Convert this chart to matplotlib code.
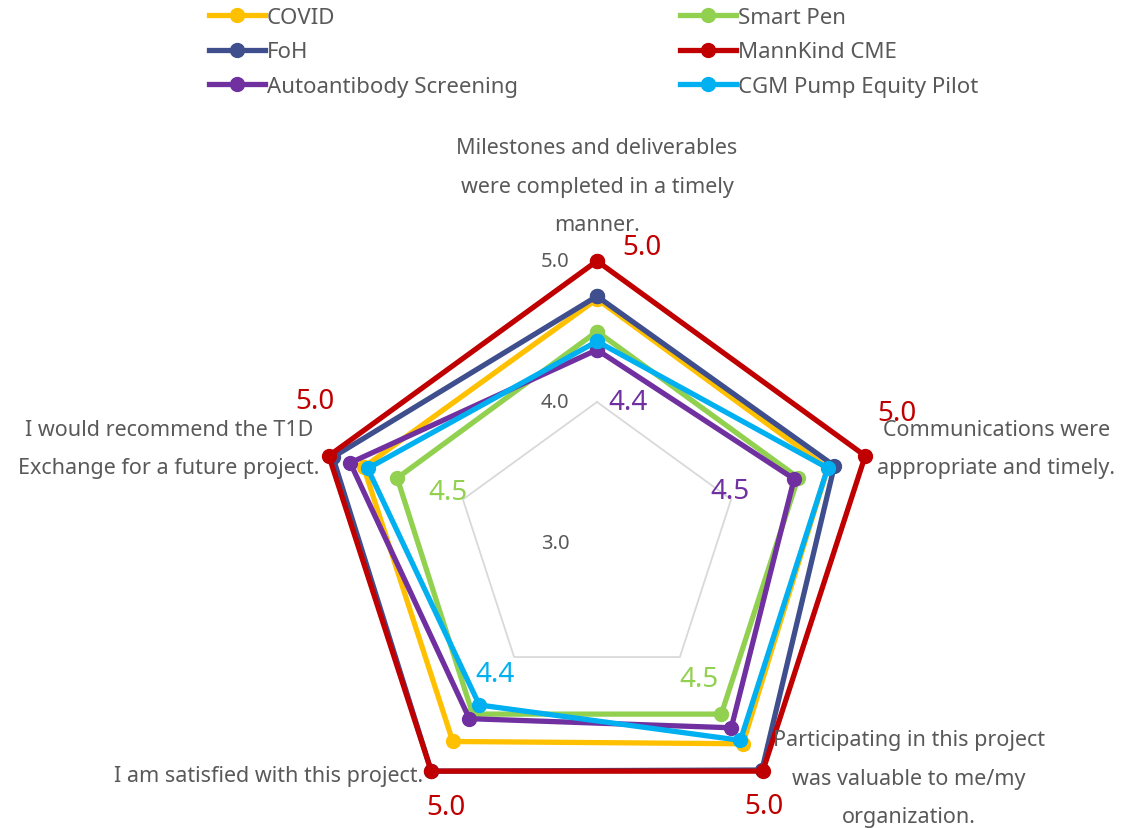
import numpy as np
import matplotlib
matplotlib.use("Agg")
import matplotlib.pyplot as plt
from matplotlib.lines import Line2D

plt.rcParams['font.family'] = ['Noto Sans', 'DejaVu Sans']

categories = [
    "Milestones and deliverables\nwere completed in a timely\nmanner.",
    "Communications were\nappropriate and timely.",
    "Participating in this project\nwas valuable to me/my\norganization.",
    "I am satisfied with this project.",
    "I would recommend the T1D\nExchange for a future project.",
]

# series in drawing order (later ones sit on top)
series_names = ["COVID", "Smart Pen", "FoH", "MannKind CME",
                "Autoantibody Screening", "CGM Pump Equity Pilot"]
covid = [4.73, 4.72, 4.76, 4.74, 4.74]
smart_pen = [4.50, 4.50, 4.50, 4.50, 4.49]
foh = [4.75, 4.77, 4.99, 5.00, 4.97]
mannkind = [5.0, 5.0, 5.0, 5.0, 5.0]
autoantibody = [4.37, 4.47, 4.62, 4.54, 4.84]
cgm = [4.43, 4.72, 4.73, 4.42, 4.71]
series_values = [covid, smart_pen, foh, mannkind, autoantibody, cgm]
colors = ["#FFC000", "#92D050", "#3F4E8C", "#C00000", "#7030A0", "#00B0F0"]

r_ticks = [3.0, 4.0, 5.0]

# which values get a data label: (series index, category index, offset px)
value_labels = [
    (3, 0, (45, 14)), (3, 1, (32, 43)), (3, 2, (1, -35)),
    (3, 3, (15, -36)), (3, 4, (-14, 55)),
    (4, 0, (31, -52)), (4, 1, (-64, -12)),
    (1, 2, (-22, 35)), (5, 3, (16, 31)), (1, 4, (51, -14)),
]
cat_offsets = [(0, 75), (131, 7), (146, -7), (-163, -4), (-160, 7)]

W, H = 1142, 829
fig = plt.figure(figsize=(W / 100, H / 100), dpi=100)
cx, cy, R = 597, 544, 282
ax = fig.add_axes([(cx - R) / W, (H - cy - R) / H, 2 * R / W, 2 * R / H],
                  projection='polar')
ax.set_theta_offset(np.pi / 2)
ax.set_theta_direction(-1)
ax.set_ylim(3, 5)
ax.set_xticks([])
ax.set_yticks([])
ax.grid(False)
ax.spines['polar'].set_visible(False)
ax.patch.set_visible(False)

n = len(categories)
theta = np.linspace(0, 2 * np.pi, n, endpoint=False)
theta_c = np.append(theta, theta[0])

# pentagon gridlines
for rv in r_ticks[1:]:
    ax.plot(theta_c, [rv] * (n + 1), color="#D9D9D9", lw=1.3, zorder=1,
            clip_on=False)

for i, rv in enumerate(r_ticks):
    ax.annotate(f"{rv:.1f}", xy=(0, rv), xytext=(-42, 0),
                textcoords='offset pixels', ha='center', va='center',
                fontsize=14.5, color="#595959", annotation_clip=False)

for k, (vals, col) in enumerate(zip(series_values, colors)):
    v = np.append(vals, vals[0])
    ax.plot(theta_c, v, color=col, lw=3.8, marker='o', ms=10,
            zorder=3 + k, clip_on=False)

for s, c, off in value_labels:
    val = series_values[s][c]
    ax.annotate(f"{val:.1f}", xy=(theta[c], val), xytext=off,
                textcoords='offset pixels', ha='center', va='center',
                fontsize=20, color=colors[s], zorder=20,
                annotation_clip=False)

for c, (label, off) in enumerate(zip(categories, cat_offsets)):
    ax.annotate(label, xy=(theta[c], 5.0), xytext=off,
                textcoords='offset pixels', ha='center', va='center',
                multialignment='center', linespacing=2.08,
                fontsize=15.5, color="#595959", zorder=25,
                annotation_clip=False)

# legend fills column by column
legend_order = [0, 2, 4, 1, 3, 5]
handles = [Line2D([], [], color=colors[i], lw=3.8, marker='o', ms=10)
           for i in legend_order]
labels = [series_names[i] for i in legend_order]
fig.legend(handles, labels, ncol=2, loc='upper left',
           bbox_to_anchor=(198 / W, 1.0 + 3 / H), frameon=False,
           fontsize=16, handlelength=2.5, handletextpad=0.1,
           columnspacing=7.3, labelspacing=0.6, labelcolor="#595959",
           borderpad=0.0)

fig.savefig("out.png", dpi=100)
